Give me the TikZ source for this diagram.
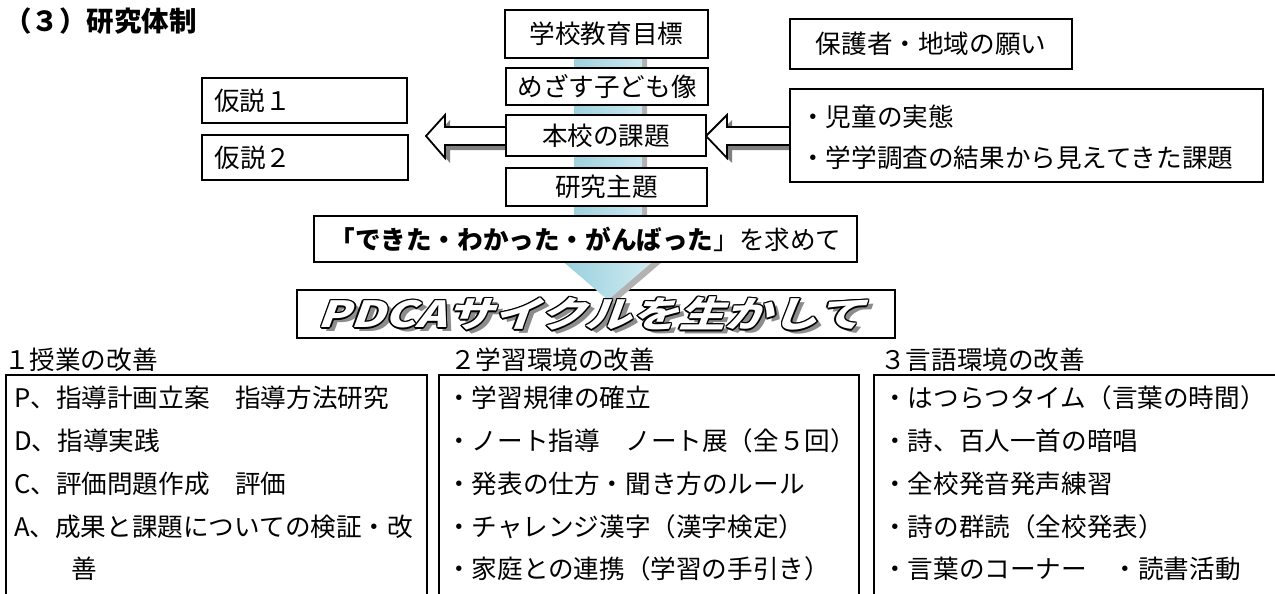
\documentclass[tikz,border=0pt]{standalone}
\usepackage{fontspec}
\setmainfont{Noto Sans CJK JP}
\definecolor{arrL}{RGB}{135,200,216}
\definecolor{arrR}{RGB}{226,243,247}
\definecolor{shadowgray}{RGB}{128,128,128}
\begin{document}
\begin{tikzpicture}[x=1pt,y=-1pt,
  box/.style={draw=black,line width=1.8pt,fill=white,inner sep=0pt},
  body/.style={font=\fontsize{25.6}{30}\selectfont},
  itm/.style={body,anchor=west,inner sep=0pt},
  hdr/.style={body,anchor=west,inner sep=0pt},
  blockarrow/.style={draw=black,line width=1.8pt,fill=white,line join=miter},
  ashadow/.style={fill=shadowgray},
  bn/.style={font=\bfseries\fontsize{36}{40}\selectfont,xscale=1.3,xslant=0.28,inner sep=0pt},
]
\useasboundingbox (0,0) rectangle (1275,594);
\clip (0,0) rectangle (1275,594);

% title
\node[anchor=west,inner sep=0pt,font=\bfseries\fontsize{27.5}{30}\selectfont] (title) at (4,21) {（３）研究体制};

% PDCA banner box (under the big arrow)
\node[box,minimum width=598pt,minimum height=48pt] (pdca) at (596,314) {};

% big light-blue downward arrow
\fill[black!30] (579,40) -- (647,40) -- (647,244) -- (683,244) -- (613,304) -- (543,244) -- (579,244) -- cycle;
\shade[left color=arrL,right color=arrR] (574,40) -- (642,40) -- (642,240) -- (678,240) -- (608,300) -- (538,240) -- (574,240) -- cycle;

% centre column boxes
\node[box,body,minimum width=203pt,minimum height=48pt] (goal) at (606.5,34) {学校教育目標};
\node[box,body,minimum width=202pt,minimum height=37pt] (child) at (607,86.5) {めざす子ども像};
\node[box,body,minimum width=201pt,minimum height=38pt] (theme) at (606.5,187) {研究主題};

% block arrows
\fill[ashadow] (431,141) -- (450,120) -- (450,132) -- (511,132) -- (511,150) -- (450,150) -- (450,163) -- cycle;
\draw[blockarrow] (426,136) -- (445,115) -- (445,127) -- (506,127) -- (506,145) -- (445,145) -- (445,158) -- cycle;
\fill[ashadow] (711,141) -- (732,120) -- (732,132) -- (795,132) -- (795,150) -- (732,150) -- (732,163) -- cycle;
\draw[blockarrow] (706,136) -- (727,115) -- (727,127) -- (790,127) -- (790,145) -- (727,145) -- (727,158) -- cycle;

\node[box,body,minimum width=200pt,minimum height=41pt] (kadai) at (606,135.5) {本校の課題};

% hypotheses
\node[box,body,minimum width=205pt,minimum height=45pt,text width=181pt,align=left] (h1) at (304.5,100.5) {仮説１};
\node[box,body,minimum width=206pt,minimum height=45pt,text width=181pt,align=left] (h2) at (305,157.5) {仮説２};

% right side
\node[box,body,minimum width=282pt,minimum height=50pt] (hope) at (931,44) {保護者・地域の願い};
\node[box,minimum width=473pt,minimum height=93pt] (jitsu) at (1026.5,135.5) {};
\node[itm] (j1) at (800,117) {・児童の実態};
\node[itm] (j2) at (800,158) {・学学調査の結果から見えてきた課題};

% dekita box
\node[box,body,minimum width=543pt,minimum height=46pt] (dekita) at (585.5,239) {{\bfseries 「できた・わかった・がんばった}」を求めて};

% PDCA banner text: shadow, outline, white fill
\node[bn,text=black!45] (pshadow) at (601,318) {PDCAサイクルを生かして};
\foreach \dx/\dy [count=\i] in {1.4/0,-1.4/0,0/1.4,0/-1.4,1/1,1/-1,-1/1,-1/-1}
  \node[bn,text=black] (po\i) at (596+\dx,314+\dy) {PDCAサイクルを生かして};
\node[bn,text=white] (ptext) at (596,314) {PDCAサイクルを生かして};

% bottom headers
\node[hdr] (hd1) at (4,360) {１授業の改善};
\node[hdr] (hd2) at (450,360) {２学習環境の改善};
\node[hdr] (hd3) at (880,360) {３言語環境の改善};

% bottom boxes
\node[box,anchor=north west,minimum width=421pt,minimum height=246pt] (b1) at (5,374) {};
\node[box,anchor=north west,minimum width=420pt,minimum height=246pt] (b2) at (438,374) {};
\node[box,anchor=north west,minimum width=412pt,minimum height=246pt] (b3) at (873,374) {};

% box 1 items
\node[itm] (p1) at (14,398) {P、指導計画立案　指導方法研究};
\node[itm] (p2) at (14,441) {D、指導実践};
\node[itm] (p3) at (14,484) {C、評価問題作成　評価};
\node[itm] (p4) at (14,527) {A、成果と課題についての検証・改};
\node[itm] (p5) at (71,569) {善};

% box 2 items
\node[itm] (q1) at (446,398) {・学習規律の確立};
\node[itm] (q2) at (446,441) {・ノート指導　ノート展（全５回）};
\node[itm] (q3) at (446,484) {・発表の仕方・聞き方のルール};
\node[itm] (q4) at (446,527) {・チャレンジ漢字（漢字検定）};
\node[itm] (q5) at (446,569) {・家庭との連携（学習の手引き）};

% box 3 items
\node[itm] (r1) at (882,398) {・はつらつタイム（言葉の時間）};
\node[itm] (r2) at (882,441) {・詩、百人一首の暗唱};
\node[itm] (r3) at (882,484) {・全校発音発声練習};
\node[itm] (r4) at (882,527) {・詩の群読（全校発表）};
\node[itm] (r5) at (882,569) {・言葉のコーナー　・読書活動};
\end{tikzpicture}
\end{document}
